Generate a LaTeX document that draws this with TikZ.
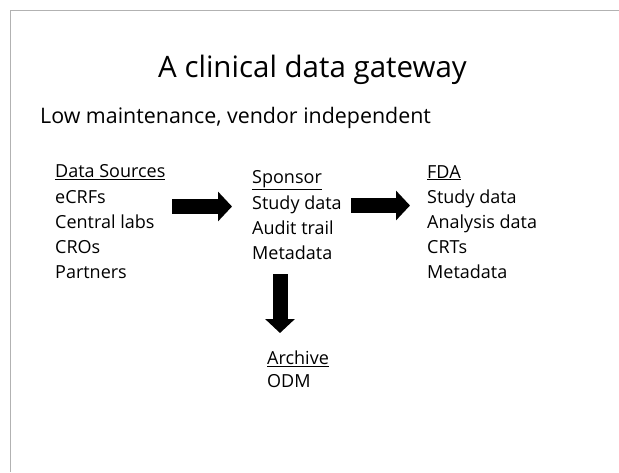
\documentclass[tikz,border=0pt]{standalone}
\usepackage{fontspec}
\setmainfont{Open Sans}
\usetikzlibrary{arrows.meta}
\begin{document}
\begin{tikzpicture}[x=1pt,y=-1pt,
  title/.style={anchor=base west,inner sep=0pt,font=\fontsize{29.5}{34}\selectfont},
  subtitle/.style={anchor=base west,inner sep=0pt,font=\fontsize{21.4}{25}\selectfont},
  item/.style={anchor=base west,inner sep=0pt,font=\fontsize{18}{22}\selectfont},
  blockarrow/.style={line width=15pt,line cap=butt,
    -{Triangle[width=29pt,length=14pt]}}]
  \useasboundingbox (0,0) rectangle (619,472);
  % page frame
  \draw[black!30,line width=1pt] (10.5,472) -- (10.5,10.5) -- (619,10.5);

  \node[title] (head) at (158,77) {A clinical data gateway};
  \node[subtitle] (sub) at (40,123) {Low maintenance, vendor independent};

  % data sources
  \node[item] (src)  at (55,177.5) {\underline{Data Sources}};
  \node[item] (src1) at (55,203) {eCRFs};
  \node[item] (src2) at (55,228) {Central labs};
  \node[item] (src3) at (55,253) {CROs};
  \node[item] (src4) at (55,278) {Partners};

  % sponsor
  \node[item] (sp)  at (252,183.5) {\underline{Sponsor}};
  \node[item] (sp1) at (252,209) {Study data};
  \node[item] (sp2) at (252,234) {Audit trail};
  \node[item] (sp3) at (252,259) {Metadata};

  % FDA
  \node[item] (fda)  at (427,178) {\underline{FDA}};
  \node[item] (fda1) at (427,203.5) {Study data};
  \node[item] (fda2) at (427,228.5) {Analysis data};
  \node[item] (fda3) at (427,253.5) {CRTs};
  \node[item] (fda4) at (427,278.5) {Metadata};

  % archive
  \node[item] (arc)  at (267,364.5) {\underline{Archive}};
  \node[item] (arc1) at (267,387) {ODM};

  % block arrows
  \coordinate (a1s) at (172,206.5);
  \coordinate (a1e) at (232,206.5);
  \coordinate (a2s) at (351,205.5);
  \coordinate (a2e) at (410,205.5);
  \coordinate (a3s) at (280,274);
  \coordinate (a3e) at (280,333);
  \draw[blockarrow] (a1s) -- (a1e);
  \draw[blockarrow] (a2s) -- (a2e);
  \draw[blockarrow] (a3s) -- (a3e);
\end{tikzpicture}
\end{document}
